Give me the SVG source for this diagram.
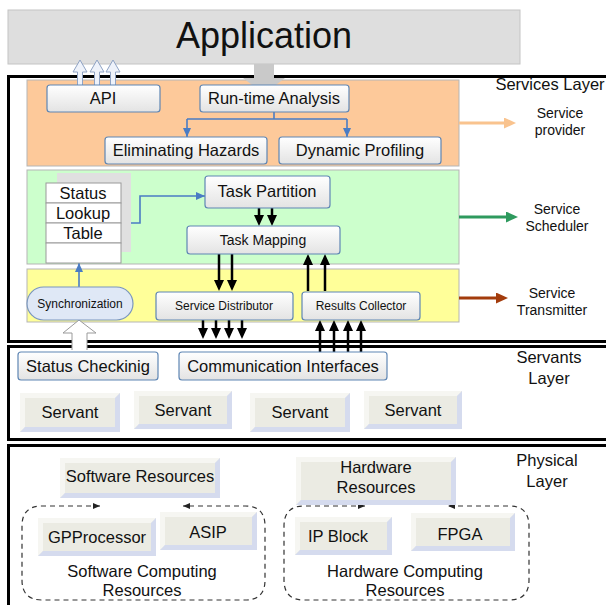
<svg xmlns="http://www.w3.org/2000/svg" width="606" height="605" viewBox="0 0 606 605">
<defs>
<style>
.t{font-family:"Liberation Sans",Arial,sans-serif;fill:#111;text-anchor:middle}
.f16{font-size:16.5px}.f14{font-size:14px}.f12{font-size:12px}
.box{fill:url(#g);stroke:#5f86b4;stroke-width:1.2}
.cell{fill:#fff;stroke:#9a9a9a;stroke-width:1}
.panel{stroke:#b5b5b5;stroke-width:1}
.frame{fill:none;stroke:#000;stroke-width:3}
.face{fill:#ebebe3}
.tl{fill:#f6f6f2}
.br{fill:#d5dbee}
.blk{stroke:#000;stroke-width:2.5;fill:none;marker-end:url(#ah)}
.blu{stroke:#4a7cc4;stroke-width:1.6;fill:none}
.dash{stroke:#333;stroke-width:1.2;stroke-dasharray:5 4;fill:none}
.hol{fill:#eef2fa;stroke:none}
.holo{fill:none;stroke:#8fa3c4;stroke-width:1}
</style>
<linearGradient id="g" x1="0" y1="0" x2="0" y2="1"><stop offset="0" stop-color="#ffffff"/><stop offset="1" stop-color="#e3e3e3"/></linearGradient>
<marker id="ah" markerUnits="userSpaceOnUse" markerWidth="11" markerHeight="10" refX="7" refY="5" orient="auto"><path d="M0,0 L11,5 L0,10 z" fill="#000"/></marker>
<marker id="ab" markerUnits="userSpaceOnUse" markerWidth="9" markerHeight="8" refX="9" refY="4" orient="auto"><path d="M0,0 L9,4 L0,8 z" fill="#4a7cc4"/></marker>
<marker id="ap" markerUnits="userSpaceOnUse" markerWidth="12" markerHeight="11" refX="8" refY="5.5" orient="auto"><path d="M0,0 L12,5.5 L0,11 z" fill="#f9c38e"/></marker>
<marker id="ag" markerUnits="userSpaceOnUse" markerWidth="12" markerHeight="11" refX="8" refY="5.5" orient="auto"><path d="M0,0 L12,5.5 L0,11 z" fill="#2e9a5e"/></marker>
<marker id="ar" markerUnits="userSpaceOnUse" markerWidth="12" markerHeight="11" refX="8" refY="5.5" orient="auto"><path d="M0,0 L12,5.5 L0,11 z" fill="#a33c0c"/></marker>
<marker id="ad" markerUnits="userSpaceOnUse" markerWidth="7" markerHeight="6" refX="7" refY="3" orient="auto-start-reverse"><path d="M0,0 L7,3 L0,6 z" fill="#222"/></marker>
</defs>
<rect width="606" height="605" fill="#fff"/>

<g id="application">
<rect x="8" y="10" width="512" height="54" fill="#dedede" stroke="#c4c4c4"/>
<text class="t" x="264" y="48" font-size="36">Application</text>
</g>

<g id="layers">
<rect class="frame" x="8.5" y="76.5" width="602" height="265"/>
<rect class="frame" x="8.5" y="346.5" width="602" height="93"/>
<rect class="frame" x="8.5" y="445.5" width="602" height="170"/>
<rect class="panel" x="27" y="80" width="432" height="86" fill="#fdc99a"/>
<rect class="panel" x="27" y="170" width="432" height="94" fill="#ccffcc"/>
<rect class="panel" x="27" y="269" width="432" height="53" fill="#ffff99"/>
<text class="t f16" x="550" y="90">Services Layer</text>
<text class="t f14" x="560" y="118">Service</text>
<text class="t f14" x="560" y="135">provider</text>
<text class="t f14" x="557" y="214">Service</text>
<text class="t f14" x="557" y="231">Scheduler</text>
<text class="t f14" x="552" y="298">Service</text>
<text class="t f14" x="552" y="315">Transmitter</text>
<text class="t f16" x="549" y="363">Servants</text>
<text class="t f16" x="549" y="384">Layer</text>
<text class="t f16" x="547" y="466">Physical</text>
<text class="t f16" x="547" y="487">Layer</text>
</g>

<g id="connectors">
<polygon points="254,64 274,64 274,78 285,78 264,94 243,78 254,78" fill="#c9c9c9"/>
<path class="hol" d="M77.5,86 V72 H73 L80,60 L87,72 H82.5 V86 z"/>
<path class="holo" d="M77.5,86 V72 H73 L80,60 L87,72 H82.5 V86"/>
<path class="hol" d="M94.5,86 V72 H90 L97,60 L104,72 H99.5 V86 z"/>
<path class="holo" d="M94.5,86 V72 H90 L97,60 L104,72 H99.5 V86"/>
<path class="hol" d="M110.5,86 V72 H106 L113,60 L120,72 H115.5 V86 z"/>
<path class="holo" d="M110.5,86 V72 H106 L113,60 L120,72 H115.5 V86"/>
<path class="blu" d="M274,112 V119 M187,119 H347"/>
<path class="blu" d="M187,119 V137" marker-end="url(#ab)"/>
<path class="blu" d="M347,119 V137" marker-end="url(#ab)"/>
<path class="blu" d="M121,223 H140 V196 H205" marker-end="url(#ab)"/>
<path class="blu" d="M79,287 V263" marker-end="url(#ab)"/>
<path class="blk" d="M259,207 V222"/>
<path class="blk" d="M272,207 V222"/>
<path class="blk" d="M219,254 V287"/>
<path class="blk" d="M232,254 V287"/>
<path class="blk" d="M308,291 V258"/>
<path class="blk" d="M325,291 V258"/>
<path class="blk" d="M203,320 V335"/>
<path class="blk" d="M216,320 V335"/>
<path class="blk" d="M229,320 V335"/>
<path class="blk" d="M242,320 V335"/>
<path class="blk" d="M320,352 V324"/>
<path class="blk" d="M334,352 V324"/>
<path class="blk" d="M348,352 V324"/>
<path class="blk" d="M361,352 V324"/>
<path d="M72,350 V333 H63 L79,320 L96,333 H87 V350 z" fill="#fff"/>
<path d="M72,350 V333 H63 L79,320 L96,333 H87 V350" fill="none" stroke="#9a9a9a" stroke-width="1"/>
<path d="M459,123 H512" stroke="#f9c38e" stroke-width="3" marker-end="url(#ap)"/>
<path d="M459,217 H514" stroke="#2e9a5e" stroke-width="3" marker-end="url(#ag)"/>
<path d="M459,298 H504" stroke="#a33c0c" stroke-width="3" marker-end="url(#ar)"/>
<path class="dash" d="M100,506 L42,506 Q22,506 22,526 L22,580 Q22,600 42,600 L245,600 Q265,600 265,580 L265,526 Q265,506 245,506 L183,506" marker-start="url(#ad)" marker-end="url(#ad)"/>
<path class="dash" d="M365,506 L304,506 Q284,506 284,526 L284,580 Q284,600 304,600 L509,600 Q529,600 529,580 L529,526 Q529,506 509,506 L448,506" marker-start="url(#ad)" marker-end="url(#ad)"/>
</g>

<g id="api"><rect class="box" x="47" y="85" width="113" height="27" rx="3"/><text class="t f16" x="103" y="104">API</text></g>
<g id="runtime"><rect class="box" x="200" y="85" width="149" height="27" rx="3"/><text class="t f16" x="274" y="104">Run-time Analysis</text></g>
<g id="hazards"><rect class="box" x="105" y="137" width="162" height="27" rx="3"/><text class="t f16" x="186" y="156">Eliminating Hazards</text></g>
<g id="profiling"><rect class="box" x="279" y="137" width="162" height="27" rx="3"/><text class="t f16" x="360" y="156">Dynamic Profiling</text></g>

<g id="lookup">
<rect x="57" y="173" width="74" height="79" fill="#e0e0e0"/>
<rect class="cell" x="46" y="183" width="75" height="20"/>
<rect class="cell" x="46" y="203" width="75" height="20"/>
<rect class="cell" x="46" y="223" width="75" height="20"/>
<rect class="cell" x="46" y="243" width="75" height="20"/>
<text class="t f16" x="83" y="199">Status</text>
<text class="t f16" x="83" y="219">Lookup</text>
<text class="t f16" x="83" y="239">Table</text>
</g>
<g id="partition"><rect class="box" x="205" y="176" width="125" height="32" rx="3"/><text class="t f16" x="267" y="197">Task Partition</text></g>
<g id="mapping"><rect class="box" x="187" y="226" width="153" height="28" rx="3"/><text class="t f14" x="263" y="245">Task Mapping</text></g>
<g id="sync"><rect x="27" y="287" width="106" height="33" rx="16.5" fill="#dfe8f6" stroke="#7a96bf" stroke-width="1.2"/><text class="t f12" x="80" y="308">Synchronization</text></g>
<g id="distributor"><rect class="box" x="156" y="292" width="137" height="28" rx="3"/><text class="t f12" x="224" y="310">Service Distributor</text></g>
<g id="collector"><rect class="box" x="302" y="292" width="118" height="28" rx="3"/><text class="t f12" x="361" y="310">Results Collector</text></g>

<g id="statuscheck"><rect class="box" x="18" y="352" width="140" height="28" rx="3"/><text class="t f16" x="88" y="372">Status Checkinig</text></g>
<g id="comm"><rect class="box" x="179" y="352" width="208" height="28" rx="3"/><text class="t f16" x="283" y="372">Communication Interfaces</text></g>

<g id="servant1"><rect class="face" x="20" y="393" width="100" height="39"/><polygon class="tl" points="20,393 120,393 115,398 25,398 25,427 20,432"/><polygon class="br" points="120,393 120,432 20,432 25,427 115,427 115,398"/><text class="t f16" x="70" y="418">Servant</text></g>
<g id="servant2"><rect class="face" x="134" y="391" width="98" height="38"/><polygon class="tl" points="134,391 232,391 227,396 139,396 139,424 134,429"/><polygon class="br" points="232,391 232,429 134,429 139,424 227,424 227,396"/><text class="t f16" x="183" y="416">Servant</text></g>
<g id="servant3"><rect class="face" x="250" y="393" width="100" height="39"/><polygon class="tl" points="250,393 350,393 345,398 255,398 255,427 250,432"/><polygon class="br" points="350,393 350,432 250,432 255,427 345,427 345,398"/><text class="t f16" x="300" y="418">Servant</text></g>
<g id="servant4"><rect class="face" x="364" y="391" width="98" height="38"/><polygon class="tl" points="364,391 462,391 457,396 369,396 369,424 364,429"/><polygon class="br" points="462,391 462,429 364,429 369,424 457,424 457,396"/><text class="t f16" x="413" y="416">Servant</text></g>

<g id="swres"><rect class="face" x="60" y="458" width="160" height="40"/><polygon class="tl" points="60,458 220,458 215,463 65,463 65,493 60,498"/><polygon class="br" points="220,458 220,498 60,498 65,493 215,493 215,463"/><text class="t f16" x="140" y="482">Software Resources</text></g>
<g id="hwres"><rect class="face" x="296" y="457" width="160" height="48"/><polygon class="tl" points="296,457 456,457 451,462 301,462 301,500 296,505"/><polygon class="br" points="456,457 456,505 296,505 301,500 451,500 451,462"/><text class="t f16" x="376" y="473">Hardware</text><text class="t f16" x="376" y="493">Resources</text></g>
<g id="swcomp"><text class="t f16" x="142" y="577">Software Computing</text><text class="t f16" x="142" y="596">Resources</text></g>
<g id="hwcomp"><text class="t f16" x="405" y="577">Hardware Computing</text><text class="t f16" x="405" y="596">Resources</text></g>
<g id="gpp"><rect class="face" x="38" y="518" width="118" height="38"/><polygon class="tl" points="38,518 156,518 151,523 43,523 43,551 38,556"/><polygon class="br" points="156,518 156,556 38,556 43,551 151,551 151,523"/><text class="t f16" x="97" y="543">GPProcessor</text></g>
<g id="asip"><rect class="face" x="160" y="512" width="97" height="38"/><polygon class="tl" points="160,512 257,512 252,517 165,517 165,545 160,550"/><polygon class="br" points="257,512 257,550 160,550 165,545 252,545 252,517"/><text class="t f16" x="208" y="538">ASIP</text></g>
<g id="ipblock"><rect class="face" x="295" y="517" width="97" height="38"/><polygon class="tl" points="295,517 392,517 387,522 300,522 300,550 295,555"/><polygon class="br" points="392,517 392,555 295,555 300,550 387,550 387,522"/><text class="t f16" x="338" y="542">IP Block</text></g>
<g id="fpga"><rect class="face" x="411" y="513" width="104" height="38"/><polygon class="tl" points="411,513 515,513 510,518 416,518 416,546 411,551"/><polygon class="br" points="515,513 515,551 411,551 416,546 510,546 510,518"/><text class="t f16" x="460" y="540">FPGA</text></g>
</svg>
